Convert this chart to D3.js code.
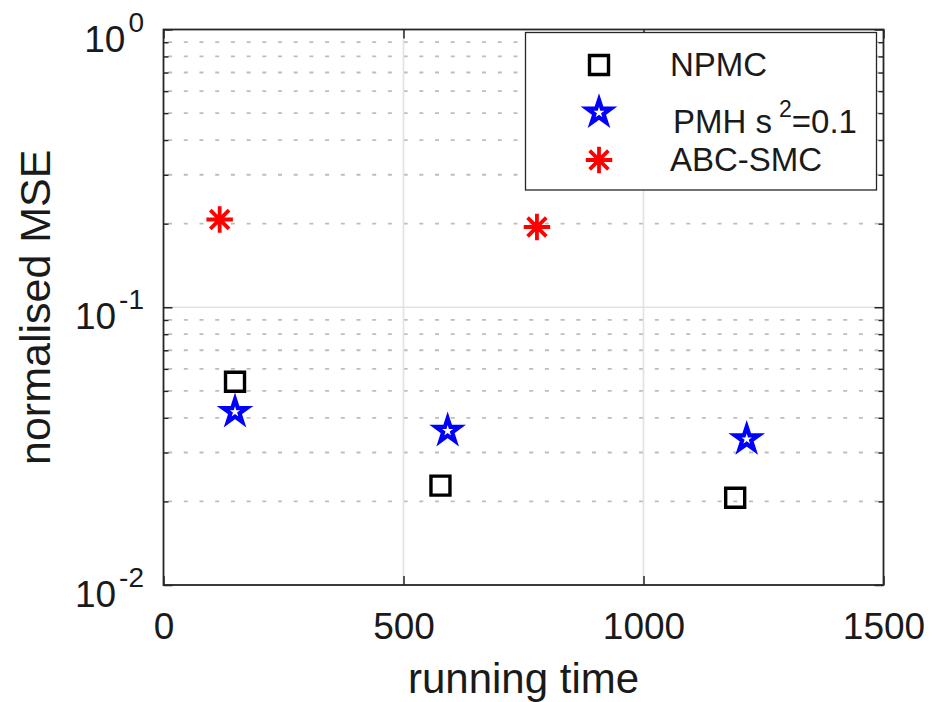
<!DOCTYPE html>
<html>
<head>
<meta charset="utf-8">
<script src="https://cdn.jsdelivr.net/npm/d3@7"></script>
<style>
body { margin: 0; background: #fff; }
text { font-family: "Liberation Sans", Arial, Helvetica, sans-serif; fill: #1a1a1a; }
</style>
</head>
<body>
<svg id="chart"></svg>
<script>
// Data
const npmcTime = [149, 577, 1191];
const npmcMSE = [0.0539, 0.0228, 0.0206];
const pmhTime = [149, 592, 1215];
const pmhMSE = [0.042, 0.0359, 0.0335];
const abcTime = [117, 778];
const abcMSE = [0.207, 0.1945];

const xTicks = [0, 500, 1000, 1500];
const yExponents = [-2, -1, 0];
const legendNames = ["NPMC", "PMH s^2=0.1", "ABC-SMC"];

// Layout
const width = 935, height = 702;
const x0 = 163.5, x1 = 883.5, y0 = 29.5, y1 = 585;

const svg = d3.select("#chart")
    .attr("width", width)
    .attr("height", height);

const x = d3.scaleLinear().domain([0, 1500]).range([x0, x1]);
const y = d3.scaleLog().domain([0.01, 1]).range([y1, y0]);

// minor values 2..9 x 10^e
const minorVals = [];
for (const e of [-2, -1]) {
    for (let m = 2; m <= 9; m++) minorVals.push(m * Math.pow(10, e));
}

// Grid
const grid = svg.append("g");
grid.selectAll(".minor")
    .data(minorVals)
    .join("line")
    .attr("x1", x0).attr("x2", x1)
    .attr("y1", d => y(d)).attr("y2", d => y(d))
    .attr("stroke", "#bdbdbd")
    .attr("stroke-width", 1.8)
    .attr("stroke-dasharray", "4 11.7")
    .attr("stroke-dashoffset", 11.1);

grid.selectAll(".vmajor")
    .data(xTicks.slice(1, -1))
    .join("line")
    .attr("x1", d => x(d)).attr("x2", d => x(d))
    .attr("y1", y0).attr("y2", y1)
    .attr("stroke", "#e2e2e2")
    .attr("stroke-width", 1.6);

grid.selectAll(".hmajor")
    .data(yExponents.slice(1, -1))
    .join("line")
    .attr("x1", x0).attr("x2", x1)
    .attr("y1", d => y(Math.pow(10, d))).attr("y2", d => y(Math.pow(10, d)))
    .attr("stroke", "#e2e2e2")
    .attr("stroke-width", 1.6);

// Axes (ticks pointing inward)
const majorY = yExponents.map(e => Math.pow(10, e));
const styleAxis = g => {
    g.select(".domain").remove();
    g.selectAll("line").attr("stroke", "#262626").attr("stroke-width", 1.5);
};

svg.append("g").attr("transform", `translate(${x0},0)`)
    .call(d3.axisLeft(y).tickValues(majorY).tickSize(-9).tickFormat(""))
    .call(styleAxis);
svg.append("g").attr("transform", `translate(${x0},0)`)
    .call(d3.axisLeft(y).tickValues(minorVals).tickSize(-5).tickFormat(""))
    .call(styleAxis);
svg.append("g").attr("transform", `translate(${x1},0)`)
    .call(d3.axisRight(y).tickValues(majorY).tickSize(-9).tickFormat(""))
    .call(styleAxis);
svg.append("g").attr("transform", `translate(${x1},0)`)
    .call(d3.axisRight(y).tickValues(minorVals).tickSize(-5).tickFormat(""))
    .call(styleAxis);
svg.append("g").attr("transform", `translate(0,${y0})`)
    .call(d3.axisTop(x).tickValues(xTicks).tickSize(-9).tickFormat(""))
    .call(styleAxis);

const xAxis = svg.append("g").attr("transform", `translate(0,${y1})`)
    .call(d3.axisBottom(x).tickValues(xTicks).tickSize(-9).tickPadding(28).tickFormat(d3.format("d")))
    .call(styleAxis);
xAxis.attr("font-size", null).attr("font-family", null);
xAxis.selectAll("text")
    .style("font-size", "37px")
    .attr("fill", "#1a1a1a");

// Y tick labels 10^e
const yLab = svg.append("g")
    .selectAll("text")
    .data(yExponents)
    .join("text")
    .attr("x", 144)
    .attr("y", d => y(Math.pow(10, d)) + 22)
    .attr("text-anchor", "end")
    .style("font-size", "37px");
yLab.append("tspan").text("10");
yLab.append("tspan")
    .attr("dx", 3)
    .attr("dy", -20)
    .style("font-size", "28px")
    .text(d => d);

// Box
svg.append("rect")
    .attr("x", x0).attr("y", y0)
    .attr("width", x1 - x0).attr("height", y1 - y0)
    .attr("fill", "none")
    .attr("stroke", "#262626")
    .attr("stroke-width", 1.8);

// Axis labels
svg.append("text")
    .attr("x", (x0 + x1) / 2)
    .attr("y", 693)
    .attr("text-anchor", "middle")
    .style("font-size", "42px")
    .text("running time");

svg.append("text")
    .attr("transform", `translate(50,${(y0 + y1) / 2}) rotate(-90)`)
    .attr("text-anchor", "middle")
    .style("font-size", "43px")
    .text("normalised MSE");

// Marker symbols
const symbolAsterisk8 = {
    draw(ctx, size) {
        const r = Math.sqrt(size) / 2;
        for (let k = 0; k < 4; k++) {
            const a = k * Math.PI / 4;
            ctx.moveTo(r * Math.cos(a), r * Math.sin(a));
            ctx.lineTo(-r * Math.cos(a), -r * Math.sin(a));
        }
    }
};

const series = [
    { name: legendNames[0], t: npmcTime, v: npmcMSE, sym: d3.symbol(d3.symbolSquare, 361), color: "#000000", sw: 3.4 },
    { name: legendNames[1], t: pmhTime, v: pmhMSE, sym: d3.symbol(d3.symbolStar, 175), color: "#0000ff", sw: 4.2 },
    { name: legendNames[2], t: abcTime, v: abcMSE, sym: d3.symbol(symbolAsterisk8, 700), color: "#ff0000", sw: 3.8 }
];

series.forEach(s => {
    svg.append("g")
        .selectAll("path")
        .data(s.t.map((t, i) => [t, s.v[i]]))
        .join("path")
        .attr("d", s.sym())
        .attr("transform", d => `translate(${x(d[0])},${y(d[1])})`)
        .attr("fill", "none")
        .attr("stroke", s.color)
        .attr("stroke-width", s.sw)
        .attr("stroke-linejoin", "miter");
});

// Legend
const legend = svg.append("g");
legend.append("rect")
    .attr("x", 525.5).attr("y", 32.5)
    .attr("width", 351).attr("height", 157.5)
    .attr("fill", "#fff")
    .attr("stroke", "#262626")
    .attr("stroke-width", 1.3);

series.forEach((s, i) => {
    const ry = 65 + i * 47.5;
    legend.append("path")
        .attr("d", s.sym())
        .attr("transform", `translate(599,${ry})`)
        .attr("fill", "none")
        .attr("stroke", s.color)
        .attr("stroke-width", s.sw);
    const parts = s.name.split("^");
    const hasSup = parts.length > 1;
    const txt = legend.append("text")
        .attr("x", hasSup ? 673 : 670)
        .attr("y", ry + 11 + (hasSup ? 9 : 0))
        .style("font-size", "33px");
    txt.append("tspan").text(parts[0]);
    if (hasSup) {
        txt.append("tspan")
            .attr("dx", 7).attr("dy", -16)
            .style("font-size", "23px")
            .text(parts[1][0]);
        txt.append("tspan")
            .attr("dy", 16)
            .text(parts[1].slice(1));
    }
});
</script>
</body>
</html>
